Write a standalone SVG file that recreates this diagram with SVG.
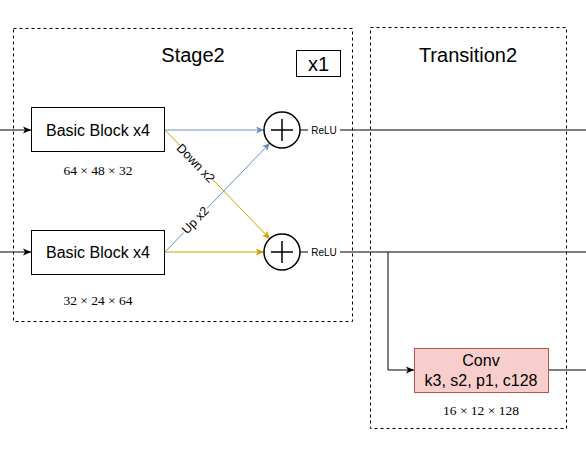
<svg xmlns="http://www.w3.org/2000/svg" width="586" height="461" viewBox="0 0 586 461">
<defs>
<style>
.frame{fill:none;stroke:#000;stroke-width:1;stroke-dasharray:3,3}
.box{fill:#fff;stroke:#000;stroke-width:1}
.t{font-family:"Liberation Sans",Arial,sans-serif;fill:#000;text-anchor:middle}
.m{font-family:"Liberation Serif","Times New Roman",serif;fill:#000;text-anchor:middle;font-size:13.5px}
.k{fill:none;stroke:#000;stroke-width:1}
.b{fill:none;stroke:#6c8ebf;stroke-width:1}
.o{fill:none;stroke:#d79b00;stroke-width:1}
</style>
<marker id="ak" markerWidth="10" markerHeight="10" refX="9" refY="5" orient="auto" markerUnits="userSpaceOnUse"><path d="M1,1.5 L9,5 L1,8.5 L3,5 Z" fill="#000"/></marker>
<marker id="ab" markerWidth="10" markerHeight="10" refX="9" refY="5" orient="auto" markerUnits="userSpaceOnUse"><path d="M1,1.5 L9,5 L1,8.5 L3,5 Z" fill="#6c8ebf"/></marker>
<marker id="ao" markerWidth="10" markerHeight="10" refX="9" refY="5" orient="auto" markerUnits="userSpaceOnUse"><path d="M1,1.5 L9,5 L1,8.5 L3,5 Z" fill="#d79b00"/></marker>
</defs>
<rect width="586" height="461" fill="#fff"/>
<g id="stage2">
<rect class="frame" x="13.5" y="28.5" width="339" height="293"/>
<text class="t" x="193" y="62" font-size="20">Stage2</text>
</g>
<g id="x1">
<rect class="box" x="296.5" y="50.5" width="44" height="26"/>
<text class="t" x="318.5" y="71" font-size="20">x1</text>
</g>
<g id="transition2">
<rect class="frame" x="370.5" y="27.5" width="196" height="401"/>
<text class="t" x="468" y="62" font-size="20">Transition2</text>
</g>
<g id="connectors">
<line class="k" x1="0" y1="130" x2="31" y2="130" marker-end="url(#ak)"/>
<line class="k" x1="0" y1="252" x2="31" y2="252" marker-end="url(#ak)"/>
<line class="b" x1="165" y1="130" x2="264" y2="130" marker-end="url(#ab)"/>
<line class="o" x1="165" y1="252" x2="264" y2="252" marker-end="url(#ao)"/>
<line class="o" x1="165" y1="130" x2="270" y2="239" marker-end="url(#ao)"/>
<line class="b" x1="165" y1="252" x2="270" y2="143" marker-end="url(#ab)"/>
<rect x="173" y="156" width="46" height="14" fill="#fff" transform="rotate(46 196 163)"/>
<text class="t" x="196" y="167.5" font-size="12.5" transform="rotate(46 196 163)">Down x2</text>
<rect x="178" y="213" width="34" height="14" fill="#fff" transform="rotate(-46 195 220)"/>
<text class="t" x="195" y="224.5" font-size="12.5" transform="rotate(-46 195 220)">Up x2</text>
<line class="k" x1="300" y1="130" x2="586" y2="130"/>
<line class="k" x1="300" y1="252" x2="586" y2="252"/>
<rect x="308" y="123" width="32" height="14" fill="#fff"/>
<rect x="308" y="245" width="32" height="14" fill="#fff"/>
<text class="t" x="324" y="133.5" font-size="10">ReLU</text>
<text class="t" x="324" y="255.5" font-size="10">ReLU</text>
<polyline class="k" points="388,252 388,370 414,370" marker-end="url(#ak)"/>
<line class="k" x1="548" y1="370" x2="586" y2="370"/>
</g>
<g id="block1">
<rect class="box" x="31.5" y="107.5" width="133" height="44"/>
<text class="t" x="98" y="135.5" font-size="16">Basic Block x4</text>
<text class="m" x="98" y="175">64 × 48 × 32</text>
</g>
<g id="block2">
<rect class="box" x="31.5" y="230.5" width="133" height="44"/>
<text class="t" x="98" y="257.5" font-size="16">Basic Block x4</text>
<text class="m" x="98" y="305">32 × 24 × 64</text>
</g>
<g id="add1">
<circle cx="282" cy="130" r="18" fill="#fff" stroke="#000" stroke-width="1.5"/>
<path d="M271,130 H293 M282,119 V141" stroke="#000" stroke-width="1.5"/>
</g>
<g id="add2">
<circle cx="282" cy="252" r="18" fill="#fff" stroke="#000" stroke-width="1.5"/>
<path d="M271,252 H293 M282,241 V263" stroke="#000" stroke-width="1.5"/>
</g>
<g id="conv">
<rect x="414.5" y="348.5" width="134" height="44" fill="#f8cecc" stroke="#b85450"/>
<text class="t" x="481" y="366" font-size="16">Conv</text>
<text class="t" x="481" y="386" font-size="16">k3, s2, p1, c128</text>
<text class="m" x="481" y="415">16 × 12 × 128</text>
</g>
</svg>
